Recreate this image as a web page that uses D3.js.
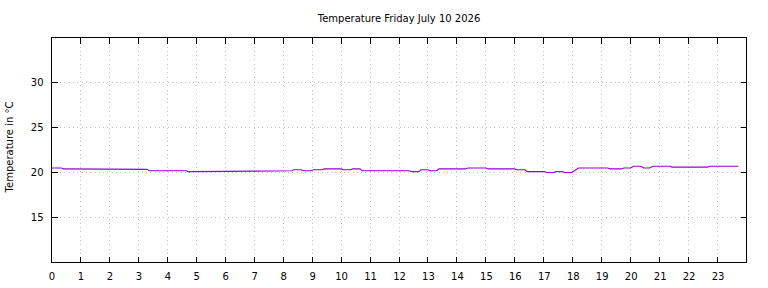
<html>
<head>
<meta charset="UTF-8"/>
<script src="https://d3js.org/d3.v7.min.js"></script>
<title>temperature</title>
<style>
body { margin: 0; background: #fff; }
text { font-family: 'DejaVu Sans', sans-serif; font-size: 10px; fill: #000; }
.grid { stroke: #c0c0c0; stroke-width: 1; stroke-dasharray: 1 3.3; shape-rendering: crispEdges; }
.tick-mark { stroke: #000; stroke-width: 1; shape-rendering: crispEdges; }
.border { fill: none; stroke: #000; stroke-width: 1; shape-rendering: crispEdges; }
.axis path, .axis line { display: none; }
</style>
</head>
<body>
<svg id='chart' width=768 height=288></svg>
<script>
'use strict';

var title = 'Temperature Friday July 10 2026';
var yLabel = 'Temperature in \u00b0C';

var xTicks = d3.range(0, 24);        // hour labels 0..23
var yTicks = [15, 20, 25, 30];

// readings: hour of day and temperature
var hours = [0, 0.35, 0.4, 3.3, 3.38, 4.65, 4.73, 6.0, 8.3, 8.38,
	8.62, 8.7, 8.97, 9.05, 9.35, 9.42, 10.0, 10.08, 10.33, 10.4,
	10.65, 10.73, 12.35, 12.43, 12.68, 12.76, 13.0, 13.08, 13.3, 13.38,
	14.3, 14.38, 15.0, 15.08, 16.0, 16.08, 16.35, 16.43, 17.03, 17.1,
	17.35, 17.42, 17.65, 17.72, 17.97, 18.2, 19.2, 19.3, 19.68, 19.76,
	20.0, 20.1, 20.35, 20.45, 20.65, 20.78, 21.35, 21.43, 22.65, 22.73,
	23.72];
var temps = [20.5, 20.5, 20.4, 20.35, 20.2, 20.2, 20.1, 20.12, 20.2, 20.3,
	20.3, 20.2, 20.2, 20.3, 20.3, 20.4, 20.4, 20.3, 20.3, 20.4,
	20.4, 20.2, 20.2, 20.1, 20.1, 20.3, 20.3, 20.2, 20.2, 20.4,
	20.4, 20.5, 20.5, 20.4, 20.4, 20.3, 20.3, 20.1, 20.1, 20.0,
	20.0, 20.1, 20.1, 20.0, 20.0, 20.5, 20.5, 20.4, 20.4, 20.5,
	20.5, 20.7, 20.7, 20.5, 20.5, 20.7, 20.7, 20.6, 20.6, 20.7,
	20.7];

var svg = d3.select('#chart');

var x = d3.scaleLinear().domain([0, 24]).range([51.5, 746.5]);
var y = d3.scaleLinear().domain([10, 35]).range([262.5, 37.5]);

var x0 = x.range()[0], x1 = x.range()[1];
var y0 = y.range()[0], y1 = y.range()[1];
var tickLen = 6;

// dotted grid
svg.selectAll('.vgrid')
.data(xTicks.filter(function(d){ return d > 0; }))
.enter().append('line')
.attr('class', 'grid')
.attr('x1', function(d){ return x(d); })
.attr('x2', function(d){ return x(d); })
.attr('y1', y0)
.attr('y2', y1);

svg.selectAll('.hgrid')
.data(yTicks)
.enter().append('line')
.attr('class', 'grid')
.attr('x1', x0)
.attr('x2', x1)
.attr('y1', function(d){ return y(d); })
.attr('y2', function(d){ return y(d); });

// inward tick marks on all four sides
var xt = xTicks.filter(function(d){ return d > 0; });
[[y0, -tickLen], [y1, tickLen]].forEach(function(s){
	svg.selectAll(null).data(xt).enter().append('line')
	.attr('class', 'tick-mark')
	.attr('x1', function(d){ return x(d); })
	.attr('x2', function(d){ return x(d); })
	.attr('y1', s[0])
	.attr('y2', s[0] + s[1]);
});
[[x0, tickLen], [x1, -tickLen]].forEach(function(s){
	svg.selectAll(null).data(yTicks).enter().append('line')
	.attr('class', 'tick-mark')
	.attr('y1', function(d){ return y(d); })
	.attr('y2', function(d){ return y(d); })
	.attr('x1', s[0])
	.attr('x2', s[0] + s[1]);
});

// tick labels through d3 axes
var xAxis = d3.axisBottom(x).tickValues(xTicks).tickSize(0).tickPadding(10)
	.tickFormat(d3.format('d'));
svg.append('g')
	.attr('class', 'axis')
	.attr('transform', 'translate(0,' + y0 + ')')
	.call(xAxis);

var yAxis = d3.axisLeft(y).tickValues(yTicks).tickSize(0).tickPadding(8)
	.tickFormat(d3.format('d'));
svg.append('g')
	.attr('class', 'axis')
	.attr('transform', 'translate(' + x0 + ',0)')
	.call(yAxis);

svg.selectAll('.axis text')
	.attr('font-family', "'DejaVu Sans', sans-serif")
	.attr('font-size', 10)
	.attr('fill', '#000');

// temperature trace
var line = d3.line()
	.x(function(d){ return x(hours[d]); })
	.y(function(d){ return y(temps[d]); });

svg.append('path')
	.datum(d3.range(hours.length))
	.attr('d', line)
	.attr('fill', 'none')
	.attr('stroke', '#9400d3')
	.attr('stroke-width', 1.1);

// border
svg.append('rect')
	.attr('class', 'border')
	.attr('x', x0)
	.attr('y', y1)
	.attr('width', x1 - x0)
	.attr('height', y0 - y1);

svg.append('text')
	.attr('x', (x0 + x1) / 2)
	.attr('y', 22)
	.attr('text-anchor', 'middle')
	.text(title);

svg.append('text')
	.attr('transform', 'translate(13,147) rotate(-90)')
	.attr('text-anchor', 'middle')
	.text(yLabel);
</script>
</body>
</html>
